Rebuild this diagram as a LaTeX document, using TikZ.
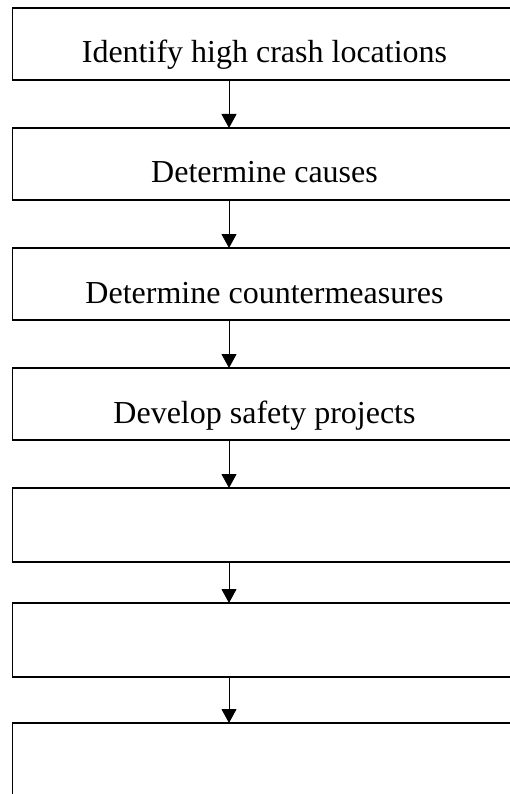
\documentclass[tikz,border=0pt]{standalone}
\usepackage{fontspec}
\setmainfont{Liberation Serif}
\usetikzlibrary{arrows.meta}

\begin{document}
\begin{tikzpicture}[x=1pt,y=-1pt,
stagebox/.style={draw,line width=1.8pt,minimum width=504pt,inner sep=0pt,
outer sep=0pt,anchor=north,text height=55pt,text depth=17pt,
font=\fontsize{32}{38}\selectfont},
blankbox/.style={draw,line width=1.3pt,minimum width=504pt,inner sep=0pt,
outer sep=0pt,anchor=north},
flow/.style={-{Triangle[width=15pt,length=14pt]},line width=0.9pt}]
\clip (0,0) rectangle (510,794);
\node[stagebox] (s1) at (264.5,8) {Identify high crash locations};
\node[stagebox] (s2) at (264.5,128) {Determine causes};
\node[stagebox] (s3) at (264.5,248) {Determine countermeasures};
\node[stagebox] (s4) at (264.5,368) {Develop safety projects};
\node[blankbox,minimum height=74pt] (s5) at (264.5,488) {};
\node[blankbox,minimum height=74pt] (s6) at (264.5,603) {};
\node[blankbox,minimum height=90pt] (s7) at (264.5,723) {};
\coordinate (ax) at (229,0);
\foreach \i/\j in {1/2,2/3,3/4,4/5,5/6,6/7}{
\draw[flow] (s\i.south -| ax)--(s\j.north -| ax);
}
\end{tikzpicture}
\end{document}
